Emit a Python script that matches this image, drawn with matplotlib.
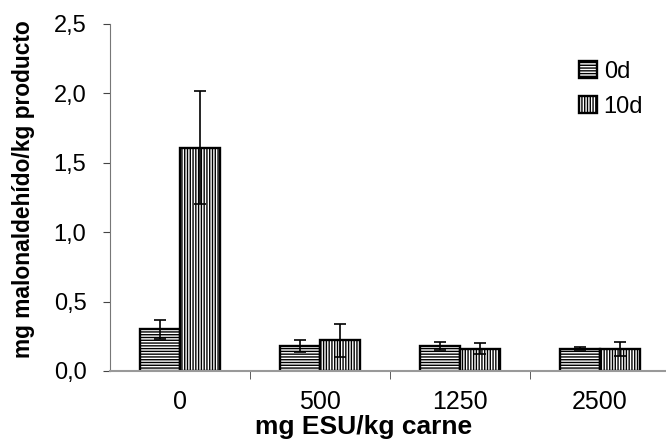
import numpy as np
import matplotlib
matplotlib.use('Agg')
from matplotlib import pyplot as plt

categories = ['0', '500', '1250', '2500']
series = ['0d', '10d']
mean_0d = [0.30, 0.18, 0.18, 0.16]
err_0d = [0.07, 0.04, 0.03, 0.01]
mean_10d = [1.61, 0.22, 0.16, 0.16]
err_10d = [0.41, 0.12, 0.04, 0.05]
yticks = [0.0, 0.5, 1.0, 1.5, 2.0, 2.5]

plt.rcParams['font.family'] = ['Liberation Sans', 'DejaVu Sans']
plt.rcParams['hatch.linewidth'] = 1.0

fig = plt.figure(figsize=(6.66, 4.4), dpi=100)
ax = fig.add_axes([110 / 666, 1 - 371 / 440, 560 / 666, 347 / 440])

x = np.arange(len(categories))
w = 0.286
ax.bar(x - w / 2, mean_0d, w, color='white', edgecolor='black',
       linewidth=1.7, hatch='------', label=series[0])
ax.bar(x + w / 2, mean_10d, w, color='white', edgecolor='black',
       linewidth=1.7, hatch='||||||', label=series[1])
ax.errorbar(x - w / 2, mean_0d, yerr=err_0d, fmt='none', ecolor='black',
            elinewidth=1.2, capsize=4.3, capthick=1.2)
ax.errorbar(x + w / 2, mean_10d, yerr=err_10d, fmt='none', ecolor='black',
            elinewidth=1.2, capsize=4.3, capthick=1.2)

ax.set_xlim(-0.5, 3.5)
ax.set_ylim(0, 2.5)
ax.set_yticks(yticks)
ax.set_yticklabels([f'{v:.1f}'.replace('.', ',') for v in yticks], fontsize=17)
ax.set_xticks(x)
ax.set_xticklabels(categories, fontsize=18)
ax.tick_params(axis='x', which='major', length=0, pad=14)
ax.set_xticks(x[:-1] + 0.5, minor=True)
ax.tick_params(axis='x', which='minor', length=6, color='#444444')
ax.tick_params(axis='y', length=5, color='#444444', pad=12)

for s in ['top', 'right']:
    ax.spines[s].set_visible(False)
ax.spines['left'].set_color('#777777')
ax.spines['bottom'].set_color('#999999')
ax.spines['bottom'].set_linewidth(1.5)

ax.set_ylabel('mg malonaldehído/kg producto', fontsize=16.4, fontweight='bold')
ax.yaxis.set_label_coords(-0.134, 0.524)
ax.set_xlabel('mg ESU/kg carne', fontsize=19, fontweight='bold')
ax.xaxis.set_label_coords(0.452, -0.128)

ax.legend(loc='upper right', bbox_to_anchor=(0.99, 0.955), frameon=False,
          fontsize=17, handlelength=0.75, handleheight=0.75, handletextpad=0.3,
          labelspacing=0.55)

fig.savefig('out.png', dpi=100)
